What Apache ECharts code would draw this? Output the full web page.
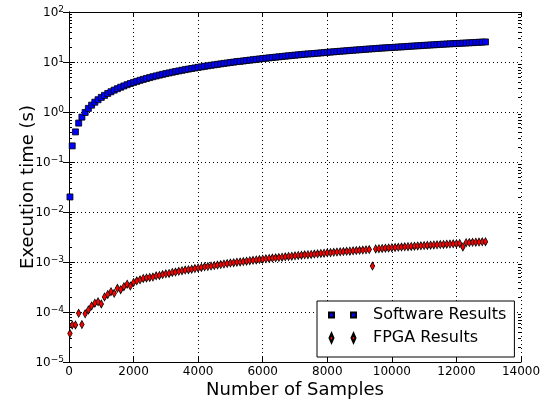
<!DOCTYPE html>
<html>
<head>
<meta charset="utf-8">
<script src="https://cdn.jsdelivr.net/npm/echarts@6/dist/echarts.min.js"></script>
<style>html,body{margin:0;padding:0;background:#fff;}#c{width:545px;height:404px;}</style>
</head>
<body>
<div id="c"></div>
<script>
const samples = [30,100,200,300,400,500,600,700,800,900,1000,1100,1200,1300,1400,1500,1600,1700,1800,1900,2000,2100,2200,2300,2400,2500,2600,2700,2800,2900,3000,3100,3200,3300,3400,3500,3600,3700,3800,3900,4000,4100,4200,4300,4400,4500,4600,4700,4800,4900,5000,5100,5200,5300,5400,5500,5600,5700,5800,5900,6000,6100,6200,6300,6400,6500,6600,6700,6800,6900,7000,7100,7200,7300,7400,7500,7600,7700,7800,7900,8000,8100,8200,8300,8400,8500,8600,8700,8800,8900,9000,9100,9200,9300,9400,9500,9600,9700,9800,9900,10000,10100,10200,10300,10400,10500,10600,10700,10800,10900,11000,11100,11200,11300,11400,11500,11600,11700,11800,11900,12000,12100,12200,12300,12400,12500,12600,12700,12800,12900];
const softwareTimes = [0.02,0.21,0.40,0.60,0.79,0.98,1.18,1.37,1.57,1.76,1.96,2.15,2.35,2.54,2.74,2.93,3.13,3.32,3.52,3.71,3.91,4.10,4.30,4.49,4.69,4.88,5.08,5.27,5.47,5.66,5.86,6.05,6.25,6.44,6.64,6.83,7.03,7.22,7.42,7.61,7.81,8.00,8.20,8.39,8.59,8.78,8.98,9.17,9.37,9.56,9.76,9.95,10.2,10.3,10.5,10.7,10.9,11.1,11.3,11.5,11.7,11.9,12.1,12.3,12.5,12.7,12.9,13.1,13.3,13.5,13.7,13.9,14.1,14.3,14.5,14.6,14.8,15.0,15.2,15.4,15.6,15.8,16.0,16.2,16.4,16.6,16.8,17.0,17.2,17.4,17.6,17.8,18.0,18.2,18.4,18.6,18.8,19.0,19.2,19.4,19.5,19.7,19.9,20.1,20.3,20.5,20.7,20.9,21.1,21.3,21.5,21.7,21.9,22.1,22.3,22.5,22.7,22.9,23.1,23.3,23.4,23.6,23.8,24.0,24.2,24.4,24.6,24.8,25.0,25.2];
const fpgaTimes = [3.7e-5,5.5e-5,5.5e-5,9.4e-5,5.6e-5,9.2e-5,1.1e-4,1.32e-4,1.5e-4,1.6e-4,1.45e-4,2.0e-4,2.25e-4,2.55e-4,2.36e-4,2.97e-4,2.8e-4,3.2e-4,3.6e-4,3.3e-4,3.9e-4,4.2e-4,4.4e-4,4.7e-4,4.8e-4,
4.9e-4,5.0e-4,5.3e-4,5.4e-4,5.6e-4,5.8e-4,5.9e-4,6.2e-4,6.3e-4,6.5e-4,6.7e-4,6.9e-4,7.0e-4,7.2e-4,7.4e-4,7.6e-4,7.8e-4,8.0e-4,8.1e-4,8.3e-4,8.5e-4,8.7e-4,8.9e-4,9.1e-4,9.3e-4,9.5e-4,9.7e-4,9.9e-4,1.00e-3,1.02e-3,1.04e-3,1.06e-3,1.08e-3,1.10e-3,1.12e-3,1.14e-3,1.16e-3,1.18e-3,1.20e-3,1.21e-3,1.23e-3,1.25e-3,1.27e-3,1.29e-3,1.31e-3,1.33e-3,1.35e-3,1.37e-3,1.39e-3,1.40e-3,1.42e-3,1.44e-3,1.46e-3,1.48e-3,1.50e-3,1.53e-3,1.54e-3,1.56e-3,1.58e-3,1.60e-3,1.62e-3,1.64e-3,1.65e-3,1.67e-3,1.69e-3,1.71e-3,1.73e-3,1.75e-3,1.77e-3,8.3e-4,1.83e-3,1.85e-3,1.87e-3,1.89e-3,1.91e-3,1.93e-3,1.95e-3,1.97e-3,1.99e-3,2.01e-3,2.03e-3,2.05e-3,2.07e-3,2.09e-3,2.11e-3,2.13e-3,2.15e-3,2.17e-3,2.19e-3,2.21e-3,2.23e-3,2.25e-3,2.27e-3,2.29e-3,2.31e-3,2.33e-3,2.35e-3,2.00e-3,2.43e-3,2.45e-3,2.47e-3,2.49e-3,2.51e-3,2.53e-3,2.55e-3];
const xTicks = [0,2000,4000,6000,8000,10000,12000,14000];
const yDecades = [-5,-4,-3,-2,-1,0,1,2];
const seriesNames = ['Software Results','FPGA Results'];

const minorTicks = [];
for (let e = -5; e < 2; e++) { for (let m = 2; m <= 9; m++) minorTicks.push([0, m * Math.pow(10, e)]); }

const FONT = 'DejaVu Sans';
const swData = samples.map((s, i) => [s, softwareTimes[i]]);
const fpData = samples.map((s, i) => [s, fpgaTimes[i]]);

const chart = echarts.init(document.getElementById('c'), null, {renderer: 'canvas'});
const xCommon = {
  type: 'value', min: xTicks[0], max: xTicks[xTicks.length - 1], interval: 2000,
  axisLine: {show: true, lineStyle: {color: '#000', width: 1}},
  axisTick: {show: true, inside: true, length: 5, lineStyle: {color: '#000'}}
};
const yCommon = {
  type: 'log', logBase: 10, min: Math.pow(10, yDecades[0]), max: Math.pow(10, yDecades[yDecades.length - 1]), interval: 1,
  axisLine: {show: true, lineStyle: {color: '#000', width: 1}},
  axisTick: {show: true, inside: true, length: 6, lineStyle: {color: '#000'}}
};
chart.setOption({
  animation: false,
  backgroundColor: '#fff',
  grid: {left: 69, right: 24, top: 12, bottom: 42, containLabel: false, outerBoundsMode: 'none'},
  legend: {
    data: [
      {name: seriesNames[0], icon: 'path://M0,0M27,9M0,2h5v5h-5zM22,2h5v5h-5z'},
      {name: seriesNames[1], icon: 'path://M0,0M27,9M2.5,0L4.5,4.5L2.5,9L0.5,4.5zM24.5,0L26.5,4.5L24.5,9L22.5,4.5z'}
    ],
    orient: 'vertical', left: 317, top: 301,
    itemWidth: 27, itemHeight: 9, itemGap: 7,
    padding: [6, 8, 11, 11],
    backgroundColor: '#fff', borderColor: '#000', borderWidth: 1, borderRadius: 0,
    textStyle: {fontFamily: FONT, fontSize: 16, color: '#000', lineHeight: 16, padding: [0, 0, 0, 12]},
    selectedMode: false
  },
  xAxis: [
    Object.assign({}, xCommon, {
      position: 'bottom',
      name: 'Number of Samples', nameLocation: 'middle', nameGap: 19, nameMoveOverlap: false,
      nameTextStyle: {fontFamily: FONT, fontSize: 18, color: '#000'},
      axisLabel: {show: true, margin: 4, fontFamily: FONT, fontSize: 12, color: '#000', formatter: v => String(v)},
      splitLine: {show: true, lineStyle: {color: '#000', type: [1, 3], width: 1}}
    }),
    Object.assign({}, xCommon, {position: 'top', axisLabel: {show: false}, splitLine: {show: false}})
  ],
  yAxis: [
    Object.assign({}, yCommon, {
      position: 'left',
      name: 'Execution time (s)', nameLocation: 'middle', nameGap: 32, nameMoveOverlap: false,
      nameTextStyle: {fontFamily: FONT, fontSize: 18, color: '#000'},
      axisLabel: {
        show: true, margin: 5,
        formatter: v => '{b|10}{s|' + String(Math.round(Math.log10(v))).replace('-', '\u2212') + '}',
        rich: {
          b: {fontFamily: FONT, fontSize: 12, color: '#000', verticalAlign: 'bottom', lineHeight: 14},
          s: {fontFamily: FONT, fontSize: 9, color: '#000', verticalAlign: 'top', lineHeight: 14, padding: [0, 0, 6, 0]}
        }
      },
      splitLine: {show: true, lineStyle: {color: '#000', type: [1, 3], width: 1}}
    }),
    Object.assign({}, yCommon, {position: 'right', axisLabel: {show: false}, splitLine: {show: false}})
  ],
  series: [
    {
      type: 'custom', silent: true, xAxisIndex: 0, yAxisIndex: 0, z: 1,
      data: minorTicks,
      renderItem: (params, api) => {
        const cs = params.coordSys;
        const y = Math.round(api.coord([0, api.value(1)])[1]) + 0.5;
        return {type: 'group', children: [
          {type: 'line', shape: {x1: cs.x, y1: y, x2: cs.x + 3, y2: y}, style: {stroke: '#000', lineWidth: 1}},
          {type: 'line', shape: {x1: cs.x + cs.width - 3, y1: y, x2: cs.x + cs.width, y2: y}, style: {stroke: '#000', lineWidth: 1}}
        ]};
      }
    },
    {
      name: seriesNames[0], type: 'scatter', data: swData, z: 3,
      symbol: 'rect', symbolSize: 6,
      itemStyle: {color: '#0000ff', borderColor: '#000', borderWidth: 0.8, opacity: 1}
    },
    {
      name: seriesNames[1], type: 'scatter', data: fpData, z: 3,
      symbol: 'diamond', symbolSize: [4.5, 8],
      itemStyle: {color: '#ff0000', borderColor: '#000', borderWidth: 0.8, opacity: 1}
    }
  ]
});
</script>
</body>
</html>
